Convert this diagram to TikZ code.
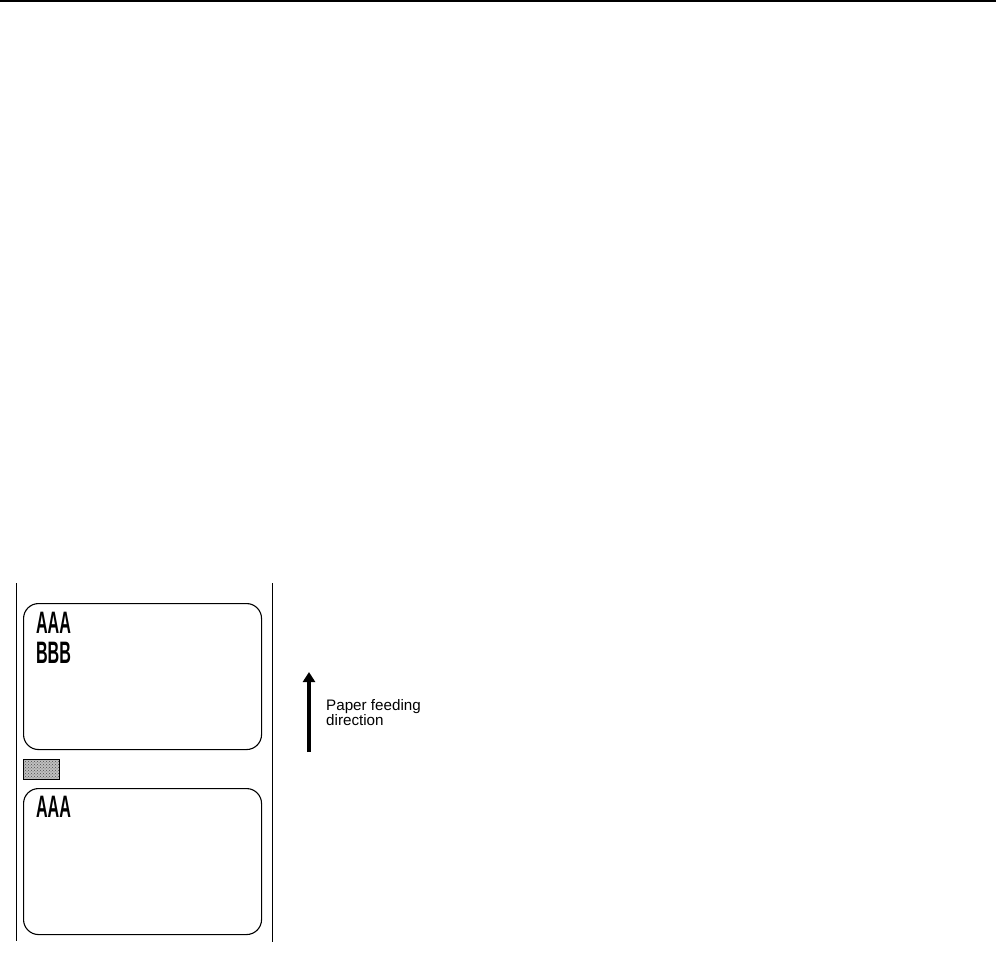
\documentclass[tikz,border=0pt]{standalone}
\usepackage{fontspec}
\setmainfont{Liberation Sans}
\usetikzlibrary{arrows.meta,patterns}
\tikzset{
  frame/.style={line width=1pt},
  label/.style={draw, rounded corners=15pt, line width=1.1pt, minimum width=238pt, minimum height=146pt, inner sep=0pt, anchor=north west},
  big/.style={font=\fontsize{31}{30}\selectfont, xscale=0.52, anchor=north west, inner sep=0pt},
  note/.style={font=\fontsize{15.2}{15.5}\selectfont, align=left, anchor=north west, inner sep=0pt}
}
\begin{document}
\begin{tikzpicture}[x=1pt,y=-1pt]
\useasboundingbox (0,0) rectangle (999,955);
\coordinate (tl) at (0,1.5); \coordinate (tr) at (996,1.5);
\draw[line width=2pt] (tl) -- (tr);
\coordinate (l1) at (16,583); \coordinate (l2) at (16,941);
\coordinate (r1) at (272,583); \coordinate (r2) at (272,942);
\draw[frame] (l1) -- (l2);
\draw[frame] (r1) -- (r2);
\node[label] (upper) at (23,603) {};
\node[label, minimum height=146pt] (lower) at (23,788) {};
\node[draw, line width=0.9pt, preaction={fill=black!25}, pattern=crosshatch dots, pattern color=black!70, minimum width=36pt, minimum height=20pt, inner sep=0pt, anchor=north west] (gray) at (23,759) {};
\node[big] (a1) at (36,612) {\bfseries AAA};
\node[big] (b1) at (36,642) {\bfseries BBB};
\node[big] (a2) at (36,796) {\bfseries AAA};
\coordinate (ab) at (309,752); \coordinate (at) at (309,672);
\draw[line width=4pt, -{Triangle[width=12pt,length=10pt]}] (ab) -- (at);
\node[note] (txt) at (326,699) {Paper feeding\\direction};
\end{tikzpicture}
\end{document}
